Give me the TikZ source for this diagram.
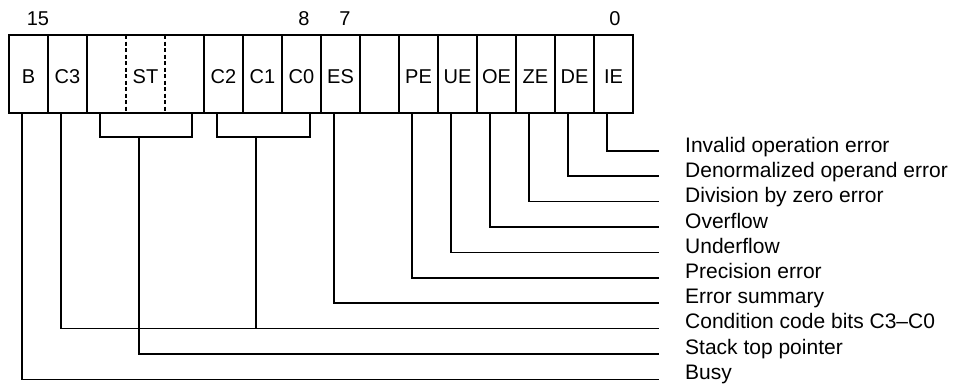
\documentclass[tikz,border=0pt]{standalone}
\usepackage{fontspec}
\setmainfont{Liberation Sans}
\usetikzlibrary{calc}
\begin{document}
\begin{tikzpicture}[x=1pt,y=-1pt,
  cell/.style={draw, line width=1.8pt, minimum width=39pt, minimum height=78pt,
    inner sep=0pt, outer sep=0pt, anchor=north west, text height=18pt, text depth=0pt,
    font=\fontsize{20}{24}\selectfont},
  wire/.style={line width=1.6pt},
  lab/.style={anchor=base west, inner sep=0pt, font=\fontsize{21}{25}\selectfont},
  num/.style={anchor=base, inner sep=0pt, font=\fontsize{20}{24}\selectfont}]
\useasboundingbox (0,0) rectangle (964,384);
% register cells
\node[cell] (nB)  at (9,35)   {B};
\node[cell] (nC3) at (48,35)  {C3};
\node[cell, minimum width=117pt] (nST) at (87,35) {ST};
\node[cell] (nC2) at (204,35) {C2};
\node[cell] (nC1) at (243,35) {C1};
\node[cell] (nC0) at (282,35) {C0};
\node[cell] (nES) at (321,35) {ES};
\node[cell] (nX)  at (360,35) {};
\node[cell] (nPE) at (399,35) {PE};
\node[cell] (nUE) at (438,35) {UE};
\node[cell] (nOE) at (477,35) {OE};
\node[cell] (nZE) at (516,35) {ZE};
\node[cell] (nDE) at (555,35) {DE};
\node[cell] (nIE) at (594,35) {IE};
\draw[line width=1.8pt, dash pattern=on 4pt off 2.5pt]
  ($(nST.north west)+(39,0)$) -- ($(nST.south west)+(39,0)$)
  ($(nST.north west)+(78,0)$) -- ($(nST.south west)+(78,0)$);
% bit numbers
\node[num] (n15) at (38,25)  {15};
\node[num] (n8)  at (304,25) {8};
\node[num] (n7)  at (345,25) {7};
\node[num] (n0)  at (615,25) {0};
% labels
\node[lab] (lIE) at (685,152.5) {Invalid operation error};
\node[lab] (lDE) at (685,177.7) {Denormalized operand error};
\node[lab] (lZE) at (685,202.9) {Division by zero error};
\node[lab] (lOE) at (685,228.1) {Overflow};
\node[lab] (lUE) at (685,253.3) {Underflow};
\node[lab] (lPE) at (685,278.5) {Precision error};
\node[lab] (lES) at (685,303.7) {Error summary};
\node[lab] (lCC) at (685,328.9) {Condition code bits C3–C0};
\node[lab] (lST) at (685,354.1) {Stack top pointer};
\node[lab] (lB)  at (685,379.3) {Busy};
% line ends
\coordinate (eIE) at (659,150.8);
\coordinate (eDE) at (659,176.2);
\coordinate (eZE) at (659,201.6);
\coordinate (eOE) at (659,227.0);
\coordinate (eUE) at (659,252.4);
\coordinate (ePE) at (659,277.8);
\coordinate (eES) at (659,303.2);
\coordinate (eCC) at (659,328.6);
\coordinate (eST) at (659,354.0);
\coordinate (eB)  at (659,379.4);
% connectors
\draw[wire] ($(nIE.south west)+(13,0)$) |- (eIE);
\draw[wire] ($(nDE.south west)+(13,0)$) |- (eDE);
\draw[wire] ($(nZE.south west)+(13,0)$) |- (eZE);
\draw[wire] ($(nOE.south west)+(13,0)$) |- (eOE);
\draw[wire] ($(nUE.south west)+(13,0)$) |- (eUE);
\draw[wire] ($(nPE.south west)+(13,0)$) |- (ePE);
\draw[wire] ($(nES.south west)+(13,0)$) |- (eES);
\draw[wire] ($(nC3.south west)+(13,0)$) |- (eCC);
\draw[wire] ($(nB.south west)+(13,0)$) |- (eB);
% brackets
\draw[wire] ($(nST.south west)+(13,0)$) -- ++(0,24) -| ($(nST.south east)+(-12,0)$);
\draw[wire] ($(nC2.south west)+(13,0)$) -- ++(0,24) -| ($(nC0.south east)+(-11,0)$);
\coordinate (sbr) at ($(nST.south west)+(52,24)$);
\coordinate (cbr) at ($(nC1.south west)+(13,24)$);
\draw[wire] (sbr) |- (eST);
\draw[wire] (cbr) -- (cbr |- eCC);
\end{tikzpicture}
\end{document}
